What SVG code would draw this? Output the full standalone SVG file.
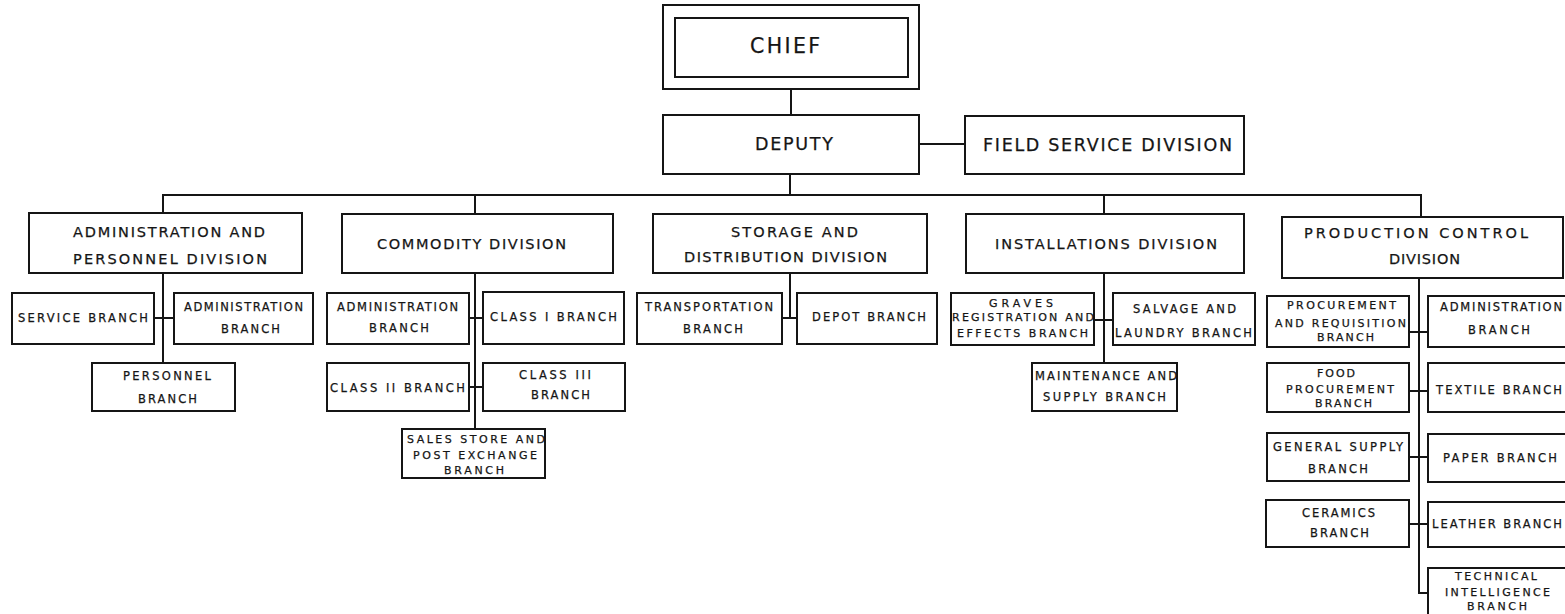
<svg xmlns="http://www.w3.org/2000/svg" width="1565" height="614" viewBox="0 0 1565 614">
  <style>
    .box { fill: #fff; stroke: #151515; stroke-width: 2; }
    .ln { fill: none; stroke: #151515; stroke-width: 2; }
    text { font-family: "DejaVu Sans", "Liberation Sans", Arial, sans-serif; fill: #151515; stroke: #151515; stroke-width: 0.25; }
    .top { font-size: 20.5px; }
    .dep { font-size: 17.5px; }
    .div { font-size: 14.5px; }
    .br { font-size: 11.5px; }
    .sm { font-size: 11px; }
  </style>
  <rect width="1565" height="614" fill="#fff"/>

  <!-- connectors -->
  <g id="connectors">
    <path class="ln" d="M791 89 V115"/>
    <path class="ln" d="M919 144 H965"/>
    <path class="ln" d="M790 174 V195"/>
    <path class="ln" d="M163 213 V195 H1421 V217"/>
    <path class="ln" d="M475 195 V214"/>
    <path class="ln" d="M1104 195 V214"/>
    <!-- administration and personnel -->
    <path class="ln" d="M163 273 V363 M154 318 H174"/>
    <!-- commodity -->
    <path class="ln" d="M475 273 V429 M469 318 H483 M469 387 H483"/>
    <!-- storage and distribution -->
    <path class="ln" d="M790 273 V318 M782 318 H797"/>
    <!-- installations -->
    <path class="ln" d="M1104 273 V363 M1094 320 H1113"/>
    <!-- production control -->
    <path class="ln" d="M1419 278 V593 H1428 M1409 332 H1428 M1409 391 H1428 M1409 457 H1428 M1409 524 H1428"/>
  </g>

  <g id="chief">
    <rect class="box" x="663" y="5" width="256" height="84"/>
    <rect class="box" x="675" y="18" width="233" height="59"/>
    <text class="top" x="750" y="53" textLength="70" lengthAdjust="spacing">CHIEF</text>
  </g>
  <g id="deputy">
    <rect class="box" x="663" y="115" width="256" height="59"/>
    <text class="dep" x="755" y="150" textLength="78" lengthAdjust="spacing">DEPUTY</text>
  </g>
  <g id="field-service">
    <rect class="box" x="965" y="116" width="279" height="58"/>
    <text class="dep" x="983" y="151" textLength="249" lengthAdjust="spacing">FIELD SERVICE DIVISION</text>
  </g>

  <!-- divisions -->
  <g id="admin-personnel-division">
    <rect class="box" x="29" y="213" width="273" height="60"/>
    <text class="div" x="73" y="237" textLength="192" lengthAdjust="spacing">ADMINISTRATION AND</text>
    <text class="div" x="73" y="264" textLength="194" lengthAdjust="spacing">PERSONNEL DIVISION</text>
  </g>
  <g id="commodity-division">
    <rect class="box" x="342" y="214" width="271" height="59"/>
    <text class="div" x="377" y="249" textLength="189" lengthAdjust="spacing">COMMODITY DIVISION</text>
  </g>
  <g id="storage-division">
    <rect class="box" x="653" y="214" width="274" height="59"/>
    <text class="div" x="731" y="237" textLength="127" lengthAdjust="spacing">STORAGE AND</text>
    <text class="div" x="684" y="262" textLength="203" lengthAdjust="spacing">DISTRIBUTION DIVISION</text>
  </g>
  <g id="installations-division">
    <rect class="box" x="966" y="214" width="278" height="59"/>
    <text class="div" x="995" y="249" textLength="222" lengthAdjust="spacing">INSTALLATIONS DIVISION</text>
  </g>
  <g id="production-division">
    <rect class="box" x="1282" y="217" width="281" height="61"/>
    <text class="div" x="1304" y="238" textLength="224" lengthAdjust="spacing">PRODUCTION CONTROL</text>
    <text class="div" x="1389" y="264" textLength="71" lengthAdjust="spacing">DIVISION</text>
  </g>

  <!-- administration and personnel branches -->
  <g id="ap-service">
    <rect class="box" x="12" y="293" width="142" height="51"/>
    <text class="br" x="18" y="322" textLength="130" lengthAdjust="spacing">SERVICE BRANCH</text>
  </g>
  <g id="ap-administration">
    <rect class="box" x="174" y="293" width="139" height="51"/>
    <text class="br" x="184" y="311" textLength="119" lengthAdjust="spacing">ADMINISTRATION</text>
    <text class="br" x="221" y="333" textLength="59" lengthAdjust="spacing">BRANCH</text>
  </g>
  <g id="ap-personnel">
    <rect class="box" x="92" y="363" width="143" height="48"/>
    <text class="br" x="123" y="380" textLength="88" lengthAdjust="spacing">PERSONNEL</text>
    <text class="br" x="138" y="403" textLength="59" lengthAdjust="spacing">BRANCH</text>
  </g>

  <!-- commodity branches -->
  <g id="cm-administration">
    <rect class="box" x="327" y="293" width="142" height="51"/>
    <text class="br" x="337" y="311" textLength="121" lengthAdjust="spacing">ADMINISTRATION</text>
    <text class="br" x="369" y="332" textLength="60" lengthAdjust="spacing">BRANCH</text>
  </g>
  <g id="cm-class1">
    <rect class="box" x="483" y="292" width="141" height="52"/>
    <text class="br" x="490" y="321" textLength="127" lengthAdjust="spacing">CLASS I BRANCH</text>
  </g>
  <g id="cm-class2">
    <rect class="box" x="327" y="363" width="142" height="48"/>
    <text class="br" x="330" y="392" textLength="135" lengthAdjust="spacing">CLASS II BRANCH</text>
  </g>
  <g id="cm-class3">
    <rect class="box" x="483" y="363" width="142" height="48"/>
    <text class="br" x="519" y="379" textLength="72" lengthAdjust="spacing">CLASS III</text>
    <text class="br" x="531" y="399" textLength="59" lengthAdjust="spacing">BRANCH</text>
  </g>
  <g id="cm-sales-store">
    <rect class="box" x="402" y="429" width="143" height="49"/>
    <text class="sm" x="407" y="443" textLength="138" lengthAdjust="spacing">SALES STORE AND</text>
    <text class="sm" x="413" y="459" textLength="124" lengthAdjust="spacing">POST EXCHANGE</text>
    <text class="sm" x="444" y="474" textLength="60" lengthAdjust="spacing">BRANCH</text>
  </g>

  <!-- storage and distribution branches -->
  <g id="sd-transportation">
    <rect class="box" x="637" y="293" width="145" height="51"/>
    <text class="br" x="645" y="311" textLength="128" lengthAdjust="spacing">TRANSPORTATION</text>
    <text class="br" x="683" y="333" textLength="60" lengthAdjust="spacing">BRANCH</text>
  </g>
  <g id="sd-depot">
    <rect class="box" x="797" y="293" width="140" height="51"/>
    <text class="br" x="812" y="321" textLength="114" lengthAdjust="spacing">DEPOT BRANCH</text>
  </g>

  <!-- installations branches -->
  <g id="in-graves">
    <rect class="box" x="951" y="293" width="143" height="52"/>
    <text class="sm" x="989" y="307" textLength="64" lengthAdjust="spacing">GRAVES</text>
    <text class="sm" x="952" y="321" textLength="142" lengthAdjust="spacing">REGISTRATION AND</text>
    <text class="sm" x="957" y="337" textLength="131" lengthAdjust="spacing">EFFECTS BRANCH</text>
  </g>
  <g id="in-salvage">
    <rect class="box" x="1113" y="293" width="142" height="52"/>
    <text class="br" x="1133" y="313" textLength="103" lengthAdjust="spacing">SALVAGE AND</text>
    <text class="br" x="1115" y="337" textLength="137" lengthAdjust="spacing">LAUNDRY BRANCH</text>
  </g>
  <g id="in-maintenance">
    <rect class="box" x="1032" y="363" width="145" height="48"/>
    <text class="br" x="1035" y="380" textLength="142" lengthAdjust="spacing">MAINTENANCE AND</text>
    <text class="br" x="1043" y="401" textLength="123" lengthAdjust="spacing">SUPPLY BRANCH</text>
  </g>

  <!-- production control branches -->
  <g id="pc-procurement">
    <rect class="box" x="1267" y="296" width="142" height="51"/>
    <text class="sm" x="1287" y="309" textLength="109" lengthAdjust="spacing">PROCUREMENT</text>
    <text class="sm" x="1275" y="327" textLength="131" lengthAdjust="spacing">AND REQUISITION</text>
    <text class="sm" x="1317" y="341" textLength="57" lengthAdjust="spacing">BRANCH</text>
  </g>
  <g id="pc-administration">
    <rect class="box" x="1428" y="296" width="142" height="51"/>
    <text class="br" x="1440" y="311" textLength="122" lengthAdjust="spacing">ADMINISTRATION</text>
    <text class="br" x="1468" y="334" textLength="62" lengthAdjust="spacing">BRANCH</text>
  </g>
  <g id="pc-food">
    <rect class="box" x="1267" y="363" width="142" height="49"/>
    <text class="sm" x="1317" y="377" textLength="38" lengthAdjust="spacing">FOOD</text>
    <text class="sm" x="1286" y="393" textLength="108" lengthAdjust="spacing">PROCUREMENT</text>
    <text class="sm" x="1315" y="407" textLength="57" lengthAdjust="spacing">BRANCH</text>
  </g>
  <g id="pc-textile">
    <rect class="box" x="1428" y="363" width="142" height="49"/>
    <text class="br" x="1436" y="394" textLength="126" lengthAdjust="spacing">TEXTILE BRANCH</text>
  </g>
  <g id="pc-general-supply">
    <rect class="box" x="1267" y="433" width="142" height="48"/>
    <text class="br" x="1273" y="451" textLength="130" lengthAdjust="spacing">GENERAL SUPPLY</text>
    <text class="br" x="1308" y="473" textLength="60" lengthAdjust="spacing">BRANCH</text>
  </g>
  <g id="pc-paper">
    <rect class="box" x="1428" y="434" width="142" height="48"/>
    <text class="br" x="1443" y="462" textLength="114" lengthAdjust="spacing">PAPER BRANCH</text>
  </g>
  <g id="pc-ceramics">
    <rect class="box" x="1266" y="500" width="143" height="47"/>
    <text class="br" x="1302" y="517" textLength="73" lengthAdjust="spacing">CERAMICS</text>
    <text class="br" x="1310" y="537" textLength="59" lengthAdjust="spacing">BRANCH</text>
  </g>
  <g id="pc-leather">
    <rect class="box" x="1428" y="502" width="142" height="45"/>
    <text class="br" x="1432" y="528" textLength="130" lengthAdjust="spacing">LEATHER BRANCH</text>
  </g>
  <g id="pc-technical">
    <rect class="box" x="1428" y="568" width="142" height="52"/>
    <text class="sm" x="1455" y="580" textLength="82" lengthAdjust="spacing">TECHNICAL</text>
    <text class="sm" x="1445" y="596" textLength="105" lengthAdjust="spacing">INTELLIGENCE</text>
    <text class="sm" x="1467" y="610" textLength="60" lengthAdjust="spacing">BRANCH</text>
  </g>
</svg>
